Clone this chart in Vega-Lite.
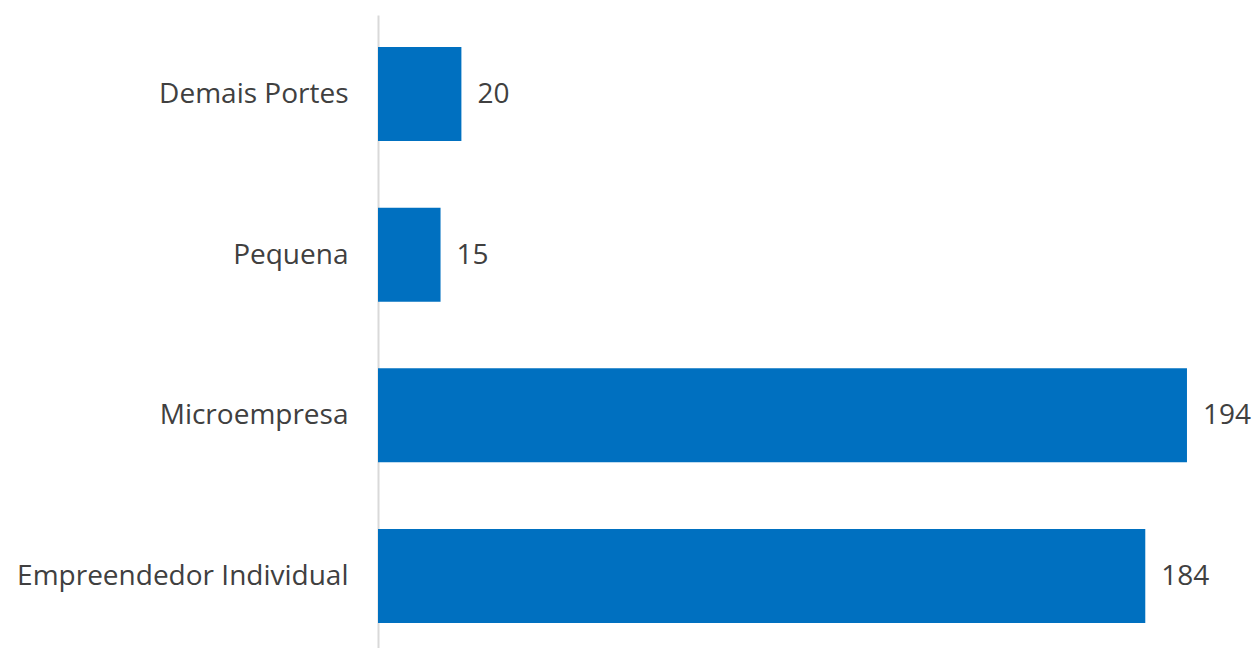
{
  "$schema": "https://vega.github.io/schema/vega-lite/v6.json",
  "width": 834,
  "height": 640,
  "autosize": {"type": "none"},
  "padding": {"left": 378, "top": 15, "right": 45, "bottom": 0},
  "background": "white",
  "config": {"view": {"stroke": null}},
  "data": {"values": [
    {"porte": "Demais Portes", "valor": 20},
    {"porte": "Pequena", "valor": 15},
    {"porte": "Microempresa", "valor": 194},
    {"porte": "Empreendedor Individual", "valor": 184}
  ]},
  "encoding": {
    "y": {"field": "porte", "type": "nominal", "sort": null,
      "scale": {"paddingInner": 0.415, "paddingOuter": 0.2},
      "axis": {"title": null, "ticks": false, "domainColor": "#d9d9d9", "domainWidth": 2,
        "labelFont": "Open Sans", "labelFontSize": 28, "labelColor": "#404040", "labelPadding": 30, "labelLimit": 400, "labelOffset": 1}},
    "x": {"field": "valor", "type": "quantitative", "scale": {"domain": [0, 200]}, "axis": null}
  },
  "layer": [
    {"mark": {"type": "bar", "color": "#0070C0"}},
    {"mark": {"type": "text", "align": "left", "dx": 16, "dy": 1, "font": "Open Sans", "fontSize": 28, "color": "#404040"},
     "encoding": {"text": {"field": "valor", "type": "quantitative"}}}
  ]
}
